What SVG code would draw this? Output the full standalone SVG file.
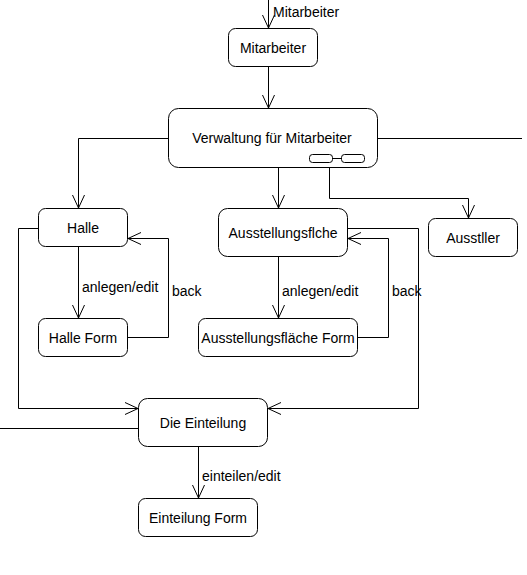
<svg xmlns="http://www.w3.org/2000/svg" width="527" height="575" viewBox="0 0 527 575">
<style>
.n{fill:#fff;stroke:#000;stroke-width:1}
.t{font-family:"Liberation Sans",Arial,sans-serif;font-size:14px;fill:#000}
.c{text-anchor:middle}
.e{fill:none;stroke:#000;stroke-width:1}
</style>
<defs>
<marker id="a" markerWidth="16" markerHeight="16" refX="14" refY="7" orient="auto" markerUnits="userSpaceOnUse">
<path d="M1,1 L14,7 L1,13" fill="none" stroke="#000" stroke-width="1"/>
</marker>
</defs>
<rect width="527" height="575" fill="#fff"/>
<g id="edges">
<path class="e" d="M268.5,0 V28" marker-end="url(#a)"/>
<text class="t" x="273" y="17">Mitarbeiter</text>
<path class="e" d="M268.5,67 V108" marker-end="url(#a)"/>
<path class="e" d="M168,138.5 H78.5 V208" marker-end="url(#a)"/>
<path class="e" d="M377,138.5 H522"/>
<path class="e" d="M278.5,168 V208" marker-end="url(#a)"/>
<path class="e" d="M329.5,168 V198.5 H468.5 V218" marker-end="url(#a)"/>
<path class="e" d="M78.5,247 V318" marker-end="url(#a)"/>
<text class="t" x="82" y="292">anlegen/edit</text>
<path class="e" d="M128,337.5 H168.5 V238.5 H128" marker-end="url(#a)"/>
<text class="t" x="172" y="296">back</text>
<path class="e" d="M278.5,257 V318" marker-end="url(#a)"/>
<text class="t" x="282" y="296">anlegen/edit</text>
<path class="e" d="M358,337.5 H388.5 V238.5 H348" marker-end="url(#a)"/>
<text class="t" x="392" y="296">back</text>
<path class="e" d="M38,228.5 H18.5 V408.5 H138" marker-end="url(#a)"/>
<path class="e" d="M348,228.5 H418.5 V408.5 H268" marker-end="url(#a)"/>
<path class="e" d="M0,428.5 H138"/>
<path class="e" d="M198.5,447 V498" marker-end="url(#a)"/>
<text class="t" x="202" y="481">einteilen/edit</text>
</g>
<g id="mitarbeiter">
<rect class="n" x="228.5" y="28.5" width="89" height="38" rx="7"/>
<text class="t c" x="273" y="52.5">Mitarbeiter</text>
</g>
<g id="verwaltung">
<rect class="n" x="168.5" y="108.5" width="209" height="59" rx="10"/>
<text class="t c" x="272" y="143">Verwaltung für Mitarbeiter</text>
<rect class="n" x="309.5" y="154.5" width="23" height="8" rx="3"/>
<rect class="n" x="341.5" y="154.5" width="23" height="8" rx="3"/>
<path class="e" d="M332.5,158.5 H341.5"/>
</g>
<g id="halle">
<rect class="n" x="38.5" y="208.5" width="89" height="38" rx="7"/>
<text class="t c" x="83" y="232.5">Halle</text>
</g>
<g id="ausstellungsflaeche">
<rect class="n" x="218.5" y="208.5" width="129" height="48" rx="9"/>
<text class="t c" x="283" y="238">Ausstellungsflche</text>
</g>
<g id="aussteller">
<rect class="n" x="428.5" y="218.5" width="89" height="38" rx="7"/>
<text class="t c" x="473" y="242.5">Ausstller</text>
</g>
<g id="halle-form">
<rect class="n" x="38.5" y="318.5" width="89" height="38" rx="7"/>
<text class="t c" x="83" y="342.5">Halle Form</text>
</g>
<g id="ausstellungsflaeche-form">
<rect class="n" x="198.5" y="318.5" width="159" height="38" rx="7"/>
<text class="t c" x="278" y="342.5">Ausstellungsfläche Form</text>
</g>
<g id="einteilung">
<rect class="n" x="138.5" y="398.5" width="129" height="48" rx="9"/>
<text class="t c" x="203" y="428">Die Einteilung</text>
</g>
<g id="einteilung-form">
<rect class="n" x="138.5" y="498.5" width="119" height="38" rx="7"/>
<text class="t c" x="198" y="522.5">Einteilung Form</text>
</g>
</svg>
